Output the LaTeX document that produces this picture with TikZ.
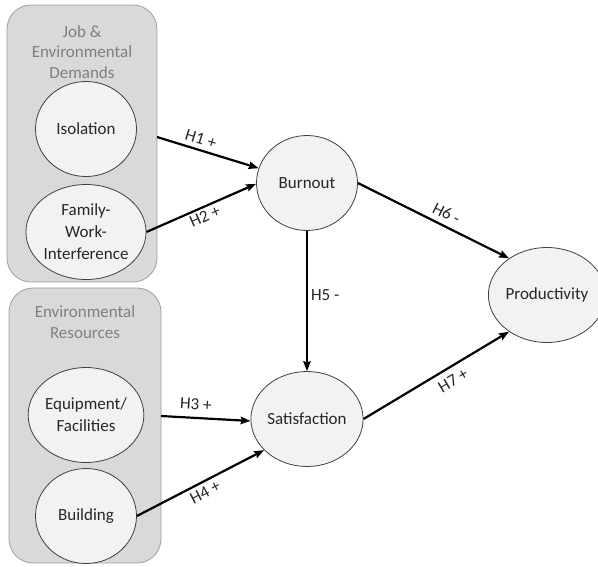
\documentclass[tikz,border=0pt]{standalone}
\usepackage{fontspec}
\setmainfont{Carlito}
\usetikzlibrary{shapes.geometric,arrows.meta}
\definecolor{boxfill}{HTML}{D9D9D9}
\definecolor{boxline}{HTML}{A0A0A0}
\definecolor{grouptext}{HTML}{7F7F7F}
\definecolor{circfill}{HTML}{F2F2F2}
\definecolor{circline}{HTML}{404040}
\definecolor{txt}{HTML}{262626}
\begin{document}
\begin{tikzpicture}[x=1pt,y=-1pt,
 every node/.style={font=\fontsize{17}{22}\selectfont},
 construct/.style={ellipse, draw=circline, fill=circfill, line width=0.8pt, minimum width=101pt, minimum height=95pt, inner sep=0pt, align=center, text=txt},
 groupbox/.style={draw=boxline, fill=boxfill, rounded corners=24pt, line width=0.8pt, inner sep=0pt},
 grouplabel/.style={text=grouptext, align=center, font=\fontsize{17}{20.5}\selectfont},
 hyp/.style={line width=2.2pt, -{Stealth[length=10pt,width=7.5pt,inset=1.5pt]}},
 hlabel/.style={sloped, inner sep=2pt, text=txt, font=\fontsize{17}{20}\selectfont}
]
\useasboundingbox (0,0) rectangle (598,566);
\fill[white] (0,0) rectangle (598,566);

% group boxes
\node[groupbox, minimum width=150pt, minimum height=277pt] (demands) at (82,143.5) {};
\node[groupbox, minimum width=152pt, minimum height=275pt] (resources) at (85,425.5) {};
\node[grouplabel] (demandslbl) at (82,52) {Job \&\\Environmental\\Demands};
\node[grouplabel] (resourceslbl) at (85,322) {Environmental\\Resources};

% constructs
\node[construct] (iso) at (86,129) {Isolation};
\node[construct] (fwi) at (86,232) {Family-\\Work-\\Interference};
\node[construct] (equip) at (86,415) {Equipment/\\Facilities};
\node[construct] (build) at (86,516) {Building};
\node[construct] (burnout) at (307,183) {Burnout};
\node[construct] (satis) at (307,419) {Satisfaction};
\node[construct] (prod) at (547,295) {Productivity};

\coordinate (h1s) at (157,137);
\coordinate (h3s) at (161,416);

% hypotheses
\draw[hyp] (h1s) -- (burnout.163) node[hlabel, pos=0.4, above, inner sep=4.5pt] {H1 +};
\draw[hyp] (fwi.east) -- (burnout.181) node[hlabel, pos=0.5, below, inner sep=2.5pt] {H2 +};
\draw[hyp] (h3s) -- (satis.182) node[hlabel, pos=0.38, above, inner sep=7pt] {H3 +};
\draw[hyp] (build.east) -- (satis.216) node[hlabel, pos=0.5, below, inner sep=3.5pt] {H4 +};
\draw[hyp] (burnout.south) -- (satis.north) node[pos=0.46, right, inner sep=3pt, text=txt] {H5 -};
\draw[hyp] (burnout.east) -- (prod.136) node[hlabel, pos=0.55, above, inner sep=5.5pt] {H6 -};
\draw[hyp] (satis.east) -- (prod.224) node[hlabel, pos=0.57, below, inner sep=6.5pt] {H7 +};
\end{tikzpicture}
\end{document}
